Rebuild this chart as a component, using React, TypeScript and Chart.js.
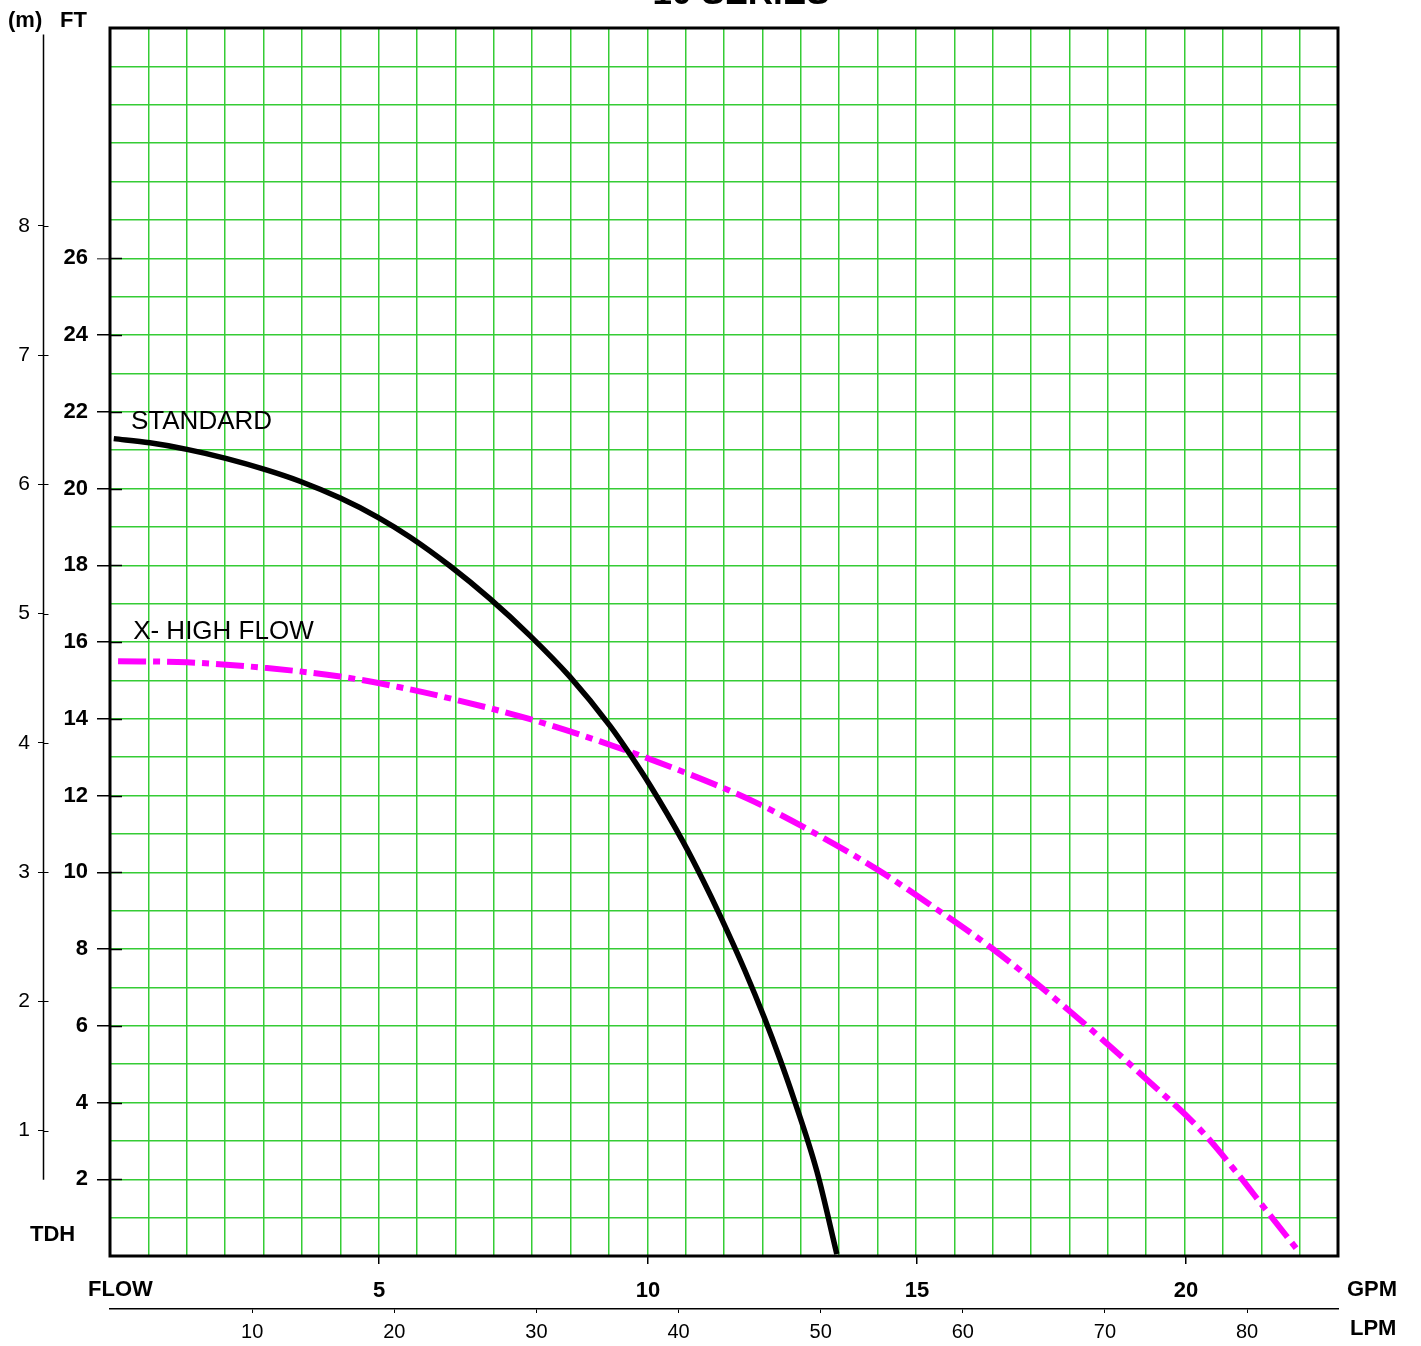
import React, { useEffect, useRef } from 'react';
import { Chart, registerables } from 'chart.js';

Chart.register(...registerables);

const TITLE = '10 SERIES';
const FONT = "'Liberation Sans', Arial, Helvetica, sans-serif";
const GREEN = '#35CC35';
const BLACK = '#000000';
const MAGENTA = '#FF00FF';

// Axis ranges
const GPM_MAX = 22.825;
const LPM_PER_GPM = 3.78541;
const FT_MAX = 32;
const GRID_DIVISIONS = 32;
const M_MIN = 0.03;
const M_MAX = 9.53;
const METER_LINE_RANGE = [0.62, 9.48];

// Tick labels
const FT_LABELS = [2, 4, 6, 8, 10, 12, 14, 16, 18, 20, 22, 24, 26];
const M_TICKS = [1, 2, 3, 4, 5, 6, 7, 8];
const GPM_TICKS = [5, 10, 15, 20];
const LPM_TICKS = [10, 20, 30, 40, 50, 60, 70, 80];

// Series: STANDARD (GPM, FT)
const STANDARD_GPM = [0.07, 0.74, 1.43, 2.17, 2.92, 3.53, 4.28, 4.98, 5.58, 6.32, 7.06, 7.81, 8.55, 9.29, 9.67, 10.04, 10.65, 11.02, 11.34, 11.8, 12.17, 12.45, 12.7, 13.14, 13.51];
const STANDARD_FT = [21.3, 21.19, 21.02, 20.78, 20.48, 20.19, 19.75, 19.25, 18.73, 17.98, 17.13, 16.16, 15.09, 13.82, 13.06, 12.26, 10.8, 9.8, 8.87, 7.44, 6.18, 5.14, 4.14, 2.2, 0.05];

// Series: X- HIGH FLOW (GPM, FT)
const XHIGH_GPM = [0.15, 1.43, 2.92, 4.28, 5.39, 6.32, 7.81, 9.11, 10.65, 12.0, 13.25, 14.31, 15.3, 16.41, 17.84, 19.27, 20.26, 20.95, 21.43, 22.06];
const XHIGH_FT = [15.5, 15.47, 15.32, 15.1, 14.82, 14.53, 13.99, 13.41, 12.62, 11.82, 10.9, 10.03, 9.1, 8.0, 6.38, 4.6, 3.3, 2.16, 1.3, 0.18];

// Curve label anchors (GPM, FT)
const STANDARD_LABEL = { text: 'STANDARD', x: 0.39, y: 21.75 };
const XHIGH_LABEL = { text: 'X- HIGH FLOW', x: 0.43, y: 16.27 };

const toPoints = (xs: number[], ys: number[]) => xs.map((x, i) => ({ x, y: ys[i] }));

const decorPlugin = {
  id: 'decor',
  afterDatasetsDraw(chart: any) {
    const { ctx, chartArea } = chart;
    const { left, top, right, bottom } = chartArea;
    const yS = chart.scales.y;
    const mS = chart.scales.m;
    const xS = chart.scales.x;
    ctx.save();
    // inner FT tick stubs
    ctx.strokeStyle = BLACK;
    ctx.lineWidth = 1.5;
    FT_LABELS.forEach((v) => {
      const py = Math.round(yS.getPixelForValue(v)) + 0.5;
      ctx.beginPath();
      ctx.moveTo(left, py);
      ctx.lineTo(left + 12, py);
      ctx.stroke();
    });
    // meter axis line
    const mx = Math.round(mS.right) + 0.5;
    ctx.lineWidth = 1.5;
    ctx.beginPath();
    ctx.moveTo(mx, mS.getPixelForValue(METER_LINE_RANGE[1]));
    ctx.lineTo(mx, mS.getPixelForValue(METER_LINE_RANGE[0]));
    ctx.stroke();
    ctx.lineWidth = 1;
    M_TICKS.forEach((v) => {
      const py = Math.round(mS.getPixelForValue(v)) + 0.5;
      ctx.beginPath();
      ctx.moveTo(mx, py);
      ctx.lineTo(mx + 5, py);
      ctx.stroke();
    });
    // frame
    ctx.strokeStyle = BLACK;
    ctx.lineWidth = 3;
    ctx.strokeRect(left, top, right - left, bottom - top);

    // texts
    ctx.fillStyle = BLACK;
    ctx.textBaseline = 'alphabetic';
    ctx.font = `bold 35px ${FONT}`;
    ctx.textAlign = 'center';
    ctx.fillText(TITLE, (left + right) / 2 + 17, 4);

    ctx.font = `bold 22px ${FONT}`;
    ctx.textAlign = 'left';
    ctx.fillText('(m)', 8, 27);
    ctx.fillText('FT', 60, 27);
    ctx.fillText('TDH', 30, 1241);
    ctx.fillText('FLOW', 88, 1296);
    ctx.fillText('GPM', 1347, 1296);
    ctx.fillText('LPM', 1350, 1335);

    ctx.font = `26px ${FONT}`;
    ctx.textBaseline = 'middle';
    [STANDARD_LABEL, XHIGH_LABEL].forEach((l) => {
      ctx.fillText(l.text, xS.getPixelForValue(l.x), yS.getPixelForValue(l.y));
    });
    ctx.restore();
  },
};

export default function App() {
  const canvasRef = useRef<HTMLCanvasElement | null>(null);

  useEffect(() => {
    if (!canvasRef.current) return;
    const chart = new Chart(canvasRef.current, {
      type: 'line',
      data: {
        datasets: [
          {
            label: 'STANDARD',
            data: toPoints(STANDARD_GPM, STANDARD_FT),
            borderColor: BLACK,
            borderWidth: 5.5,
            pointRadius: 0,
            cubicInterpolationMode: 'monotone',
            fill: false,
            xAxisID: 'x',
            yAxisID: 'y',
          },
          {
            label: 'X- HIGH FLOW',
            data: toPoints(XHIGH_GPM, XHIGH_FT),
            borderColor: MAGENTA,
            borderWidth: 6,
            borderDash: [28, 7, 7, 7],
            pointRadius: 0,
            cubicInterpolationMode: 'monotone',
            fill: false,
            xAxisID: 'x',
            yAxisID: 'y',
          },
        ],
      } as any,
      options: {
        animation: false,
        responsive: false,
        devicePixelRatio: 1,
        layout: { padding: { top: 28, right: 83, bottom: 0, left: 0 } },
        plugins: {
          legend: { display: false },
          title: { display: false },
          tooltip: { enabled: false },
        },
        scales: {
          x: {
            type: 'linear',
            position: 'bottom',
            min: 0,
            max: GPM_MAX,
            weight: 0,
            afterBuildTicks: (s: any) => {
              s.ticks = Array.from({ length: GRID_DIVISIONS + 1 }, (_, i) => ({ value: (i * GPM_MAX) / GRID_DIVISIONS }));
            },
            ticks: { display: false, autoSkip: false },
            grid: { color: GREEN, lineWidth: 1.5, drawTicks: false },
            border: { display: false },
            afterFit: (s: any) => {
              s.height = 0;
            },
          },
          gpm: {
            type: 'linear',
            position: 'bottom',
            min: 0,
            max: GPM_MAX,
            weight: 1,
            afterBuildTicks: (s: any) => {
              s.ticks = GPM_TICKS.map((v) => ({ value: v }));
            },
            ticks: {
              autoSkip: false,
              maxRotation: 0,
              color: BLACK,
              padding: 14,
              font: { family: FONT, size: 22, weight: 'bold' },
            },
            grid: { drawOnChartArea: false, tickLength: 8, color: BLACK, lineWidth: 1.5 },
            border: { display: false },
            afterFit: (s: any) => {
              s.height = 53;
            },
          },
          lpm: {
            type: 'linear',
            position: 'bottom',
            min: 0,
            max: GPM_MAX * LPM_PER_GPM,
            weight: 2,
            afterBuildTicks: (s: any) => {
              s.ticks = LPM_TICKS.map((v) => ({ value: v }));
            },
            ticks: {
              autoSkip: false,
              maxRotation: 0,
              color: BLACK,
              padding: 7,
              font: { family: FONT, size: 20 },
            },
            grid: { drawOnChartArea: false, tickLength: 4, color: BLACK, lineWidth: 1 },
            border: { display: true, color: BLACK, width: 1.5 },
            afterFit: (s: any) => {
              s.height = 37;
            },
          },
          y: {
            type: 'linear',
            position: 'left',
            min: 0,
            max: FT_MAX,
            weight: 0,
            ticks: {
              stepSize: 1,
              autoSkip: false,
              color: BLACK,
              padding: 9,
              font: { family: FONT, size: 22, weight: 'bold' },
              callback: (v: any) => (FT_LABELS.includes(Number(v)) ? String(v) : ''),
            },
            grid: {
              color: GREEN,
              lineWidth: 1.5,
              tickLength: 13,
              tickWidth: 1.5,
              tickColor: (c: any) => (c.tick && FT_LABELS.includes(c.tick.value) ? (c.tick.value === 26 ? '#666666' : BLACK) : 'rgba(0,0,0,0)'),
            },
            border: { display: false },
            afterFit: (s: any) => {
              s.width = 67;
            },
          },
          m: {
            type: 'linear',
            position: 'left',
            min: M_MIN,
            max: M_MAX,
            weight: 1,
            afterBuildTicks: (s: any) => {
              s.ticks = M_TICKS.map((v) => ({ value: v }));
            },
            ticks: {
              autoSkip: false,
              color: BLACK,
              padding: 8,
              font: { family: FONT, size: 21 },
            },
            grid: { drawOnChartArea: false, tickLength: 5, color: BLACK, lineWidth: 1 },
            border: { display: false },
            afterFit: (s: any) => {
              s.width = 43;
            },
          },
        },
      } as any,
      plugins: [decorPlugin],
    });
    return () => chart.destroy();
  }, []);

  return (
    <div style={{ position: 'absolute', left: 0, top: 0, width: 1421, height: 1346, background: '#ffffff' }}>
      <canvas ref={canvasRef} width={1421} height={1346} style={{ width: 1421, height: 1346, display: 'block' }} />
    </div>
  );
}
